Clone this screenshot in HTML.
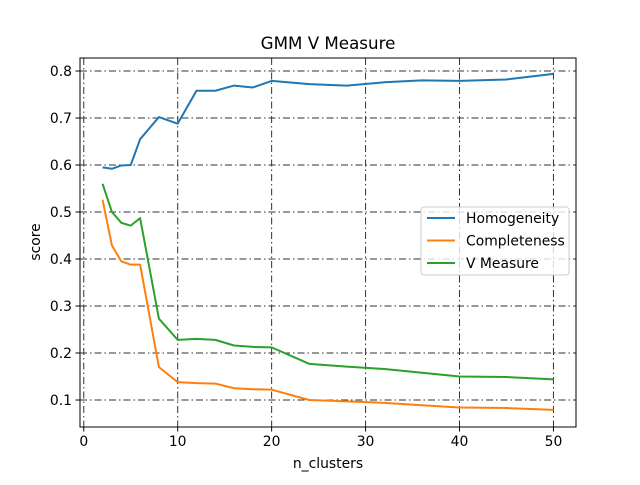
<!DOCTYPE html>
<html><head><meta charset="utf-8"><style>
body{margin:0;background:#fff}
svg text{font-family:"DejaVu Sans","Liberation Sans",sans-serif;fill:#000}
</style></head><body>
<svg id="chart" width="640" height="480" xmlns="http://www.w3.org/2000/svg">
<rect width="640" height="480" fill="#fff"/>
<text x="328" y="49" font-size="16.7" text-anchor="middle">GMM V Measure</text>
<g id="grid"></g><g id="series"></g><g id="axes"></g>
<text x="328" y="468" font-size="13.9" text-anchor="middle">n_clusters</text>
<text x="0" y="0" font-size="13.9" text-anchor="middle" transform="translate(40,242) rotate(-90)">score</text>
<g id="legend"></g>
</svg>
<script>
const nClusters=[2,3,4,5,6,8,10,12,14,16,18,20,24,28,32,36,40,45,50];
const homogeneity=[0.595,0.592,0.599,0.600,0.655,0.702,0.688,0.758,0.758,0.769,0.765,0.779,0.772,0.769,0.776,0.780,0.779,0.782,0.794];
const completeness=[0.526,0.429,0.395,0.388,0.388,0.170,0.138,0.136,0.135,0.125,0.123,0.122,0.100,0.097,0.094,0.089,0.084,0.083,0.079];
const vMeasure=[0.560,0.500,0.477,0.471,0.487,0.273,0.228,0.230,0.228,0.216,0.213,0.212,0.177,0.171,0.166,0.158,0.150,0.149,0.144];
const xTicks=[0,10,20,30,40,50];
const yTicks=[0.1,0.2,0.3,0.4,0.5,0.6,0.7,0.8];
const seriesNames=["Homogeneity","Completeness","V Measure"];
const seriesColors=["#1f77b4","#ff7f0e","#2ca02c"];

const L=80,R=576,T=58,B=427;
const xMin=-0.4,xMax=52.4,yMin=0.0426,yMax=0.8277;
const xs=v=>L+(v-xMin)/(xMax-xMin)*(R-L);
const ys=v=>B-(v-yMin)/(yMax-yMin)*(B-T);
const NS="http://www.w3.org/2000/svg";
function mk(tag,attrs,parent){const e=document.createElementNS(NS,tag);for(const k in attrs)e.setAttribute(k,attrs[k]);parent.appendChild(e);return e;}
const grid=document.getElementById('grid'),axes=document.getElementById('axes'),ser=document.getElementById('series'),leg=document.getElementById('legend');
xTicks.forEach(t=>{const x=xs(t);
 const g=mk('line',{x1:x,x2:x,y1:T,y2:B,stroke:'#333','stroke-width':1,'stroke-dasharray':'7,3,1.5,3'},grid);
 
 
 mk('line',{x1:x,x2:x,y1:B,y2:B+4.5,stroke:'#000','stroke-width':1},axes);
 const tx=mk('text',{x:x,y:B+19,'font-size':13.9,'text-anchor':'middle'},axes);tx.textContent=t;
 
 
});
yTicks.forEach(t=>{const y=ys(t);
 const g=mk('line',{x1:L,x2:R,y1:y,y2:y,stroke:'#333','stroke-width':1,'stroke-dasharray':'7,3,1.5,3'},grid);
 
 
 mk('line',{x1:L-4.5,x2:L,y1:y,y2:y,stroke:'#000','stroke-width':1},axes);
 const tx=mk('text',{x:L-8,y:y+5,'font-size':13.9,'text-anchor':'end'},axes);tx.textContent=t.toFixed(1);
 
 
});
const r=mk('rect',{x:L,y:T,width:R-L,height:B-T,fill:'none',stroke:'#000','stroke-width':1},axes);


[homogeneity,completeness,vMeasure].forEach((arr,i)=>{
 const p=mk('polyline',{points:arr.map((v,j)=>xs(nClusters[j])+','+ys(v)).join(' '),fill:'none',stroke:seriesColors[i],'stroke-width':2,'stroke-linejoin':'round'},ser);
 
 
});
mk('rect',{x:421,y:207,width:148,height:68,rx:3,fill:'#fff','fill-opacity':0.8,stroke:'#ccc'},leg);
seriesNames.forEach((n,i)=>{const y=218+i*22.5;
 const l=mk('line',{x1:427,x2:455,y1:y,y2:y,stroke:seriesColors[i],'stroke-width':2},leg);
 
 
 const t=mk('text',{x:466,y:y+5,'font-size':13.9},leg);t.textContent=n;
 
 
});
</script>
</body></html>
